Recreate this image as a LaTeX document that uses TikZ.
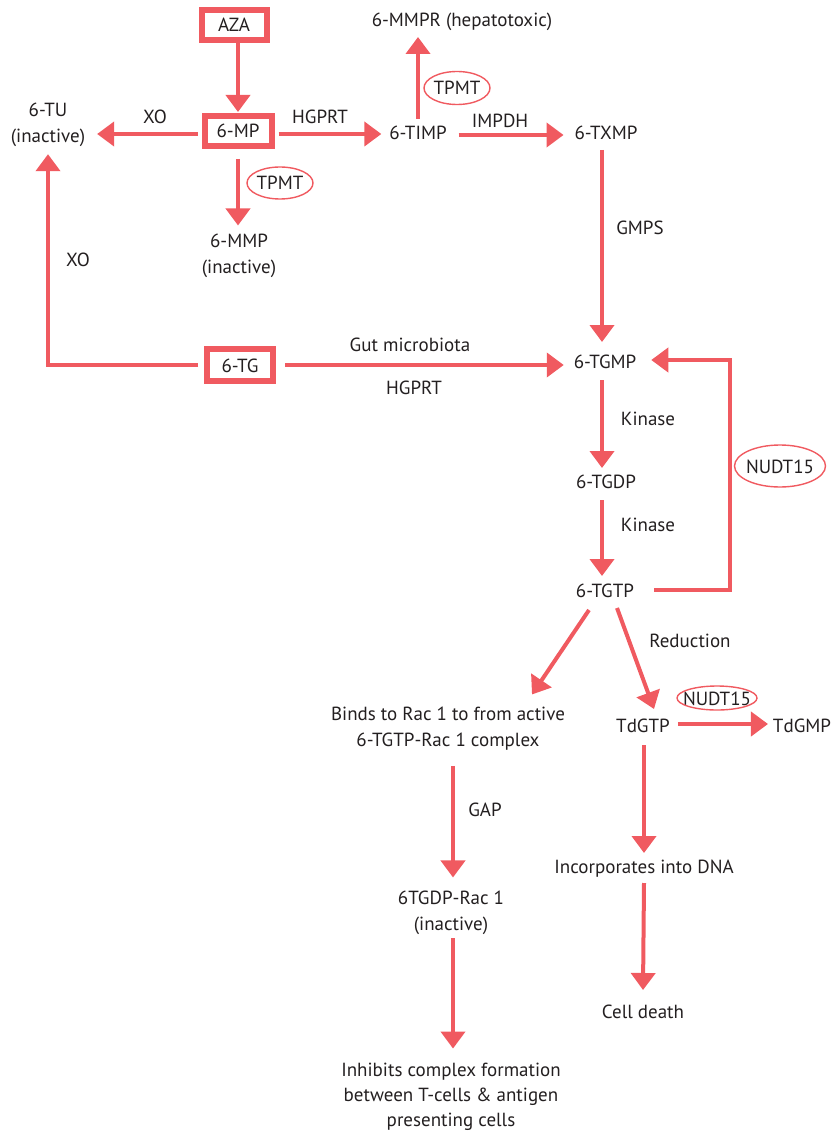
\documentclass[tikz,border=0pt]{standalone}
\usepackage{fontspec}
\setmainfont{PT Sans}
\usetikzlibrary{arrows.meta,calc,shapes.geometric}
\definecolor{pr}{RGB}{240,90,96}
\definecolor{tx}{RGB}{35,31,32}
\begin{document}
\begin{tikzpicture}[x=1pt,y=-1pt,
  every node/.style={font=\fontsize{19}{26}\selectfont, text=tx, inner sep=0pt, outer sep=0pt},
  lbl/.style={anchor=base, text height=14pt, text depth=4pt},
  ml/.style={anchor=base, align=center},
  boxn/.style={draw=pr, line width=6pt, outer sep=3pt, minimum width=#1, minimum height=30pt, text height=14pt, text depth=0pt},
  ovtxt/.style={text height=14pt, text depth=0pt},
  ov/.style={draw=pr, line width=1.4pt},
  arr/.style={draw=pr, line width=4pt, -{Triangle[length=17pt,width=24pt]}}]
\useasboundingbox (0,0) rectangle (832,1131);

% boxes
\node[boxn=65pt] (aza) at (234,25) {AZA};
\node[boxn=67pt] (mp) at (238,131) {6-MP};
\node[boxn=66pt, minimum height=32pt] (tg) at (240,365) {6-TG};

% text nodes
\node[ml] (tu) at (48,143) {6-TU\\(inactive)};
\node[lbl] (mmpr) at (462,27) {6-MMPR (hepatotoxic)};
\node[lbl] (timp) at (418,140) {6-TIMP};
\node[lbl] (txmp) at (606,140) {6-TXMP};
\node[ml] (mmp) at (239,274) {6-MMP\\(inactive)};
\node[lbl] (tgmp) at (605,368) {6-TGMP};
\node[lbl] (tgdp) at (606,488) {6-TGDP};
\node[lbl] (tgtp) at (605,597) {6-TGTP};
\node[ml] (binds) at (448,746) {Binds to Rac 1 to from active\\6-TGTP-Rac 1 complex};
\node[lbl] (tdgtp) at (643,732) {TdGTP};
\node[lbl] (tdgmp) at (802,732) {TdGMP};
\node[ml] (rac) at (451,930) {6TGDP-Rac 1\\(inactive)};
\node[lbl] (dna) at (644,873) {Incorporates into DNA};
\node[lbl] (death) at (643,1018) {Cell death};
\node[ml, font=\fontsize{19}{25}\selectfont] (inhib) at (451,1126) {Inhibits complex formation\\between T-cells \& antigen\\presenting cells};

% edge labels
\node[lbl] (lxo1) at (155,124) {XO};
\node[lbl] (lhg1) at (320,124) {HGPRT};
\node[lbl] (limp) at (500,128) {IMPDH};
\node[lbl] (lgmps) at (640,235) {GMPS};
\node[lbl] (lxo2) at (78,267) {XO};
\node[lbl] (lgut) at (410,351) {Gut microbiota};
\node[lbl] (lhg2) at (414,394) {HGPRT};
\node[lbl] (lkin1) at (648,425) {Kinase};
\node[lbl] (lkin2) at (648,531) {Kinase};
\node[lbl] (lred) at (690,647) {Reduction};
\node[lbl] (lgap) at (485,816) {GAP};

% enzyme ovals
\node[ovtxt] (tpmt1) at (280,183) {TPMT};
\draw[ov] (tpmt1.center) ellipse [x radius=33, y radius=16];
\node[ovtxt] (tpmt2) at (457,88) {TPMT};
\draw[ov] (tpmt2.center) ellipse [x radius=33, y radius=16.5];
\node[ovtxt] (nudt1) at (780,466) {NUDT15};
\draw[ov] (nudt1.center) ellipse [x radius=45.5, y radius=21];
\node[ovtxt] (nudt2) at (717,698) {NUDT15};
\draw[ov] (nudt2.center) ellipse [x radius=40, y radius=12];

% arrows
\draw[arr] (aza.south -| mp.north) -- ($(mp.north)+(0,-1)$);
\draw[arr] ($(mp.west)+(-4,3)$) -- ($(mp.west -| tu.east)+(12,3)$);
\draw[arr] ($(mp.east)+(4,3)$) -- ($(mp.east -| timp.west)+(-8,3)$);
\draw[arr] ($(mp.south)+(0,10)$) -- ($(mp.south |- mmp.north)+(0,-9)$);
\draw[arr] ($(timp.north)+(0,-7)$) -- ($(timp.north |- mmpr.south)+(0,6)$);
\draw[arr] ($(timp.east)+(12,0)$) -- ($(txmp.west)+(-11,0)$);
\draw[arr] ($(txmp.south)+(-4,6)$) -- ($(txmp.south |- tgmp.north)+(-4,-12)$);
\draw[arr] ($(tg.west)+(-6,0)$) -| ($(tu.south)+(0,7)$);
\draw[arr] ($(tg.east)+(9,0)$) -- ($(tgmp.west |- tg.east)+(-10,0)$);
\draw[arr] ($(tgmp.south)+(-3,8)$) -- ($(tgmp.south |- tgdp.north)+(-3,-6)$);
\draw[arr] ($(tgdp.south)+(-4,8)$) -- ($(tgdp.south |- tgtp.north)+(-4,-7)$);
\coordinate (ls) at ($(tgtp.east)+(20,-2)$);
\coordinate (lt) at ($(tgmp.east)+(15,-3)$);
\coordinate (lc) at ($(nudt1.center)+(-50.5,0)$);
\draw[arr] (ls) -| (lc |- lt) -- (lt);
\draw[arr] ($(tgtp.south)+(-16,9)$) -- ($(binds.north)+(84,-12)$);
\draw[arr] ($(tgtp.south)+(12,7)$) -- ($(tdgtp.north)+(11,-9)$);
\draw[arr] ($(tdgtp.east)+(8,-3)$) -- ($(tdgtp.east -| tdgmp.west)+(-5,-3)$);
\draw[arr] ($(tdgtp.south)+(1,9)$) -- ($(tdgtp.south |- dna.north)+(1,-6)$);
\draw[arr] ($(dna.south)+(0,6)$) -- ($(death.north)+(0,-14)$);
\draw[arr] ($(binds.south -| rac.north)+(2,16)$) -- ($(rac.north)+(2,-13)$);
\draw[arr] ($(rac.south)+(2,4)$) -- ($(rac.south |- inhib.north)+(2,-14)$);
\end{tikzpicture}
\end{document}
